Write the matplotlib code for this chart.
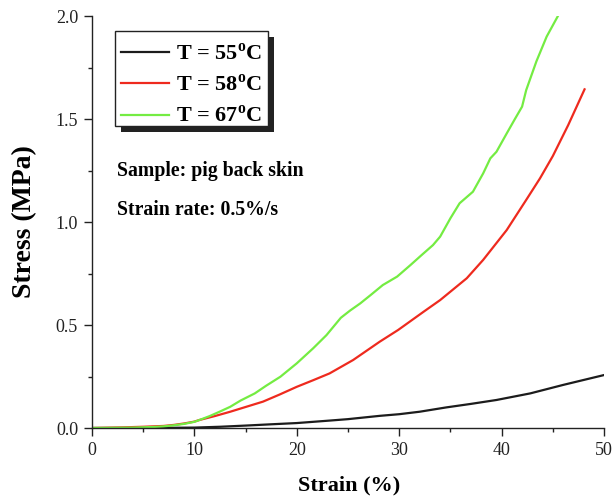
import matplotlib
matplotlib.use("Agg")
import matplotlib.pyplot as plt
from matplotlib.patches import Rectangle

plt.rcParams["font.family"] = ["Liberation Serif", "DejaVu Serif"]
plt.rcParams["mathtext.fontset"] = "custom"
plt.rcParams["mathtext.rm"] = "Liberation Serif"
plt.rcParams["mathtext.bf"] = "Liberation Serif:bold"

# Stress-strain curves of pig back skin at three temperatures
strain_55 = [0, 5, 10, 12.5, 15.1, 17.5, 20, 23.2, 25, 28.1, 30, 32, 34.6, 37, 39.5, 42.8, 46.0, 50]
stress_55 = [0, 0.0, 0.002, 0.006, 0.012, 0.018, 0.024, 0.036, 0.043, 0.059, 0.067, 0.079,
             0.10, 0.117, 0.136, 0.168, 0.209, 0.257]

strain_58 = [0, 3, 5, 7, 8, 9, 10, 10.5, 12, 13.5, 15, 16.7, 18.3, 20, 21.6, 23.2, 25.5, 28.1,
             29.9, 32.4, 34.0, 36.6, 38.2, 40.5, 42.4, 43.75, 45, 46.5, 48.1]
stress_58 = [0, 0.003, 0.006, 0.01, 0.015, 0.022, 0.031, 0.039, 0.058, 0.079, 0.102, 0.128,
             0.162, 0.20, 0.232, 0.265, 0.33, 0.419, 0.476, 0.565, 0.621, 0.727, 0.816, 0.961,
             1.107, 1.212, 1.32, 1.47, 1.644]

strain_67 = [0, 2, 4, 6, 7, 8, 9, 10, 10.5, 11.5, 12.5, 13.5, 14.5, 15.9, 17, 18.4, 20, 21.6,
             22.9, 24.3, 25.2, 26.2, 27.2, 28.4, 29.8, 31.1, 32.2, 33.3, 34.0, 35.0, 35.9, 37.2,
             38.2, 38.9, 39.5, 40.5, 41.3, 42.0, 42.4, 43.4, 44.4, 45.5]
stress_67 = [0, 0.001, 0.002, 0.005, 0.008, 0.013, 0.02, 0.03, 0.039, 0.058, 0.08, 0.103, 0.133,
             0.168, 0.205, 0.249, 0.314, 0.387, 0.451, 0.535, 0.57, 0.605, 0.645, 0.694, 0.735,
             0.791, 0.84, 0.888, 0.929, 1.018, 1.091, 1.147, 1.236, 1.309, 1.341, 1.43, 1.50,
             1.56, 1.64, 1.78, 1.90, 2.0]

labels = [r"T = 55$^{\mathbf{o}}$C", r"T = 58$^{\mathbf{o}}$C", r"T = 67$^{\mathbf{o}}$C"]
colors = ["#1c1c1c", "#ee2a1e", "#74ec42"]

x_ticks = [0, 10, 20, 30, 40, 50]
y_ticks = [0.0, 0.5, 1.0, 1.5, 2.0]

fig = plt.figure(figsize=(6.16, 4.98), dpi=100)
ax = fig.add_axes([92 / 616, 70 / 498, 512 / 616, 412 / 498])

for xs, ys, lab, col in zip([strain_55, strain_58, strain_67],
                            [stress_55, stress_58, stress_67], labels, colors):
    ax.plot(xs, ys, color=col, lw=1.6, label=lab)

ax.set_xlim(0, 50)
ax.set_ylim(0, 2.0)
ax.set_xticks(x_ticks)
ax.set_xticklabels([str(v) for v in x_ticks])
ax.set_yticks(y_ticks)
ax.set_yticklabels([f"{v:.1f}" for v in y_ticks])
ax.set_xticks([5, 15, 25, 35, 45], minor=True)
ax.set_yticks([0.25, 0.75, 1.25, 1.75], minor=True)

for side in ("top", "right"):
    ax.spines[side].set_visible(False)
for side in ("left", "bottom"):
    ax.spines[side].set_linewidth(1.0)
    ax.spines[side].set_color("#222222")

ax.tick_params(which="major", direction="out", length=5.5, width=1.0, labelsize=13,
               pad=4.5, colors="#222222")
ax.tick_params(which="minor", direction="out", length=3, width=1.0, colors="#222222")

ax.set_xlabel("Strain (%)", fontsize=16, fontweight="bold")
ax.set_ylabel("Stress (MPa)", fontsize=20, fontweight="bold")
ax.xaxis.set_label_coords(0.503, -0.139)
ax.xaxis.label.set_va("center")
ax.yaxis.set_label_coords(-0.131, 0.5)
ax.yaxis.label.set_va("center")

ax.text(0.049, 0.611, "Sample: pig back skin", transform=ax.transAxes,
        fontsize=14.2, fontweight="bold", va="baseline")
ax.text(0.049, 0.517, "Strain rate: 0.5%/s", transform=ax.transAxes,
        fontsize=14.2, fontweight="bold", va="baseline")

leg = ax.legend(loc="upper left", bbox_to_anchor=(0.045, 0.9476), borderaxespad=0,
                frameon=False, prop={"size": 16, "weight": "bold"}, handlelength=2.2,
                handletextpad=0.3, borderpad=0.25, labelspacing=0.45)

# Legend frame (raised a little above the entries) with a solid drop shadow
fig.canvas.draw()
bb = leg.get_window_extent()
inv = fig.transFigure.inverted()
lift = 7
(fx0, fy0), (fx1, fy1) = inv.transform([[bb.x0, bb.y0 + lift], [bb.x1, bb.y1 + lift]])
(sx0, sy0), (sx1, sy1) = inv.transform([[bb.x0 + 6, bb.y0 + lift - 6],
                                        [bb.x1 + 6, bb.y1 + lift - 6]])
shadow = Rectangle((sx0, sy0), sx1 - sx0, sy1 - sy0, transform=fig.transFigure,
                   facecolor="#222222", edgecolor="none", zorder=leg.get_zorder() - 0.5,
                   clip_on=False)
frame = Rectangle((fx0, fy0), fx1 - fx0, fy1 - fy0, transform=fig.transFigure,
                  facecolor="white", edgecolor="#222222", linewidth=1.0,
                  zorder=leg.get_zorder() - 0.3, clip_on=False)
ax.add_patch(shadow)
ax.add_patch(frame)

fig.savefig("out.png", dpi=100)
